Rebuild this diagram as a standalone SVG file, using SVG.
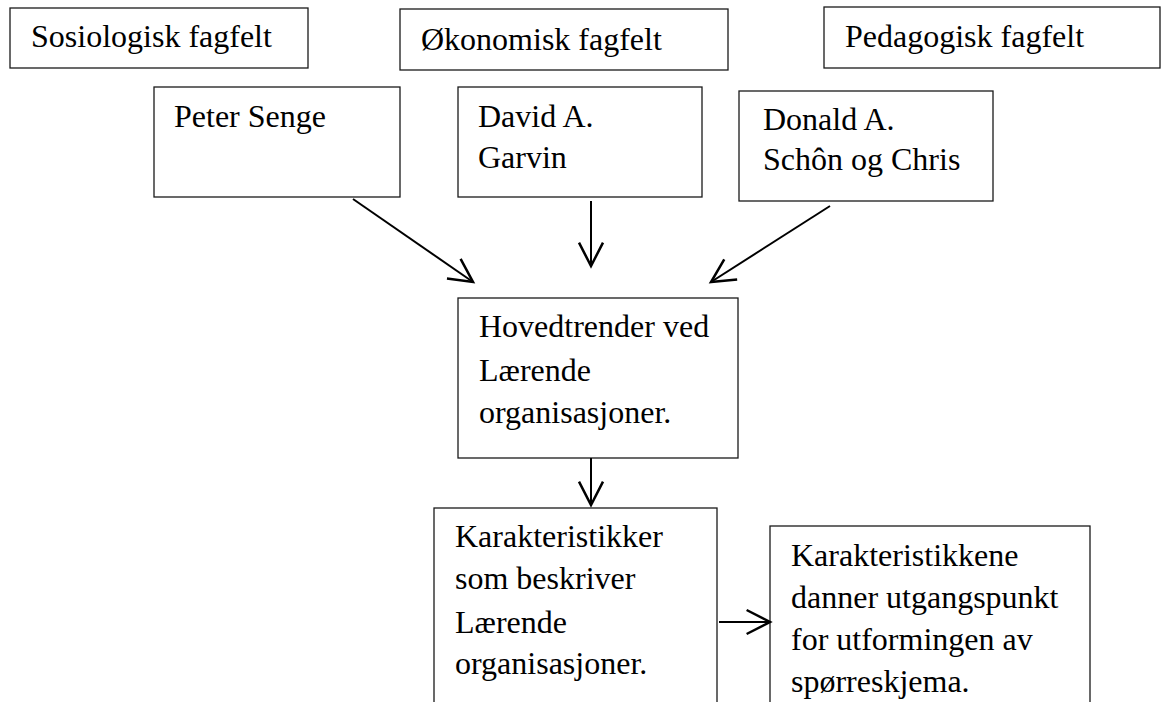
<svg xmlns="http://www.w3.org/2000/svg" width="1163" height="702" viewBox="0 0 1163 702">
  <style>
    .box { fill: #ffffff; stroke: #1a1a1a; stroke-width: 1.3; }
    .lbl { font-family: "Liberation Serif", "Times New Roman", serif; font-size: 32px; fill: #000000; }
    .arrow { fill: none; stroke: #000000; stroke-width: 2; marker-end: url(#open); }
  </style>
  <defs>
    <marker id="open" markerUnits="userSpaceOnUse" markerWidth="30" markerHeight="30" viewBox="-22 -12 24 24" refX="0" refY="0" orient="auto" overflow="visible">
      <path d="M -18.7,-9.6 L 0,0 L -18.7,9.6" fill="none" stroke="#000000" stroke-width="2"/>
    </marker>
  </defs>
  <rect width="1163" height="702" fill="#ffffff"/>

  <g id="sosiologisk">
    <rect class="box" x="10" y="8" width="298" height="60"/>
    <text class="lbl" x="31" y="47">Sosiologisk fagfelt</text>
  </g>
  <g id="okonomisk">
    <rect class="box" x="400" y="9" width="328" height="61"/>
    <text class="lbl" x="421" y="50">Økonomisk fagfelt</text>
  </g>
  <g id="pedagogisk">
    <rect class="box" x="824" y="7" width="336" height="61"/>
    <text class="lbl" x="845" y="47">Pedagogisk fagfelt</text>
  </g>

  <g id="senge">
    <rect class="box" x="154" y="87" width="246" height="110"/>
    <text class="lbl" x="174" y="127">Peter Senge</text>
  </g>
  <g id="garvin">
    <rect class="box" x="458" y="87" width="244" height="110"/>
    <text class="lbl" x="478" y="127">David A.</text>
    <text class="lbl" x="478" y="168">Garvin</text>
  </g>
  <g id="schon">
    <rect class="box" x="739" y="91" width="254" height="110"/>
    <text class="lbl" x="763" y="130">Donald A.</text>
    <text class="lbl" x="763" y="170">Schôn og Chris</text>
  </g>

  <g id="hovedtrender">
    <rect class="box" x="458" y="298" width="280" height="160"/>
    <text class="lbl" x="479" y="337">Hovedtrender ved</text>
    <text class="lbl" x="479" y="381">Lærende</text>
    <text class="lbl" x="479" y="423">organisasjoner.</text>
  </g>

  <g id="karakteristikker">
    <rect class="box" x="434" y="508" width="283" height="200"/>
    <text class="lbl" x="455" y="547">Karakteristikker</text>
    <text class="lbl" x="455" y="589">som beskriver</text>
    <text class="lbl" x="455" y="633">Lærende</text>
    <text class="lbl" x="455" y="674">organisasjoner.</text>
  </g>

  <g id="karakteristikkene">
    <rect class="box" x="770" y="526" width="320" height="190"/>
    <text class="lbl" x="791" y="566">Karakteristikkene</text>
    <text class="lbl" x="791" y="608">danner utgangspunkt</text>
    <text class="lbl" x="791" y="650">for utformingen av</text>
    <text class="lbl" x="791" y="692">spørreskjema.</text>
  </g>

  <g id="connectors">
    <line class="arrow" x1="353" y1="199" x2="473" y2="282"/>
    <line class="arrow" x1="591" y1="201" x2="591" y2="266"/>
    <line class="arrow" x1="830" y1="206" x2="711" y2="282"/>
    <line class="arrow" x1="591" y1="458" x2="591" y2="505"/>
    <line class="arrow" x1="719" y1="622" x2="770" y2="622"/>
  </g>
</svg>
